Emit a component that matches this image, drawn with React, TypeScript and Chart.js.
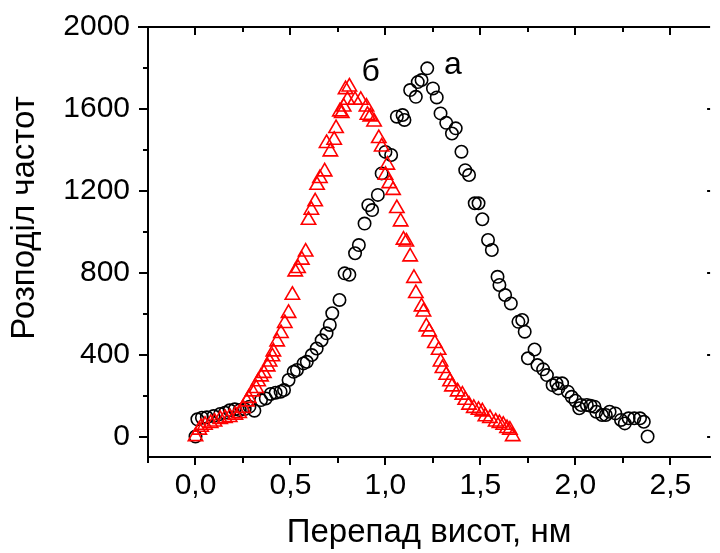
import React, { useEffect, useRef } from 'react';
import { Chart, registerables } from 'chart.js';

Chart.register(...registerables);

// Series "а" (black circles)
const seriesAX = [0, 0.01, 0.034, 0.06, 0.095, 0.13, 0.155, 0.18, 0.207, 0.233, 0.259, 0.284, 0.31, 0.345, 0.37, 0.396, 0.422, 0.448, 0.466, 0.49, 0.517, 0.534, 0.569, 0.586, 0.612, 0.638, 0.664, 0.69, 0.707, 0.72, 0.758, 0.785, 0.81, 0.84, 0.86, 0.89, 0.91, 0.93, 0.96, 0.98, 1.00, 1.03, 1.06, 1.09, 1.10, 1.13, 1.16, 1.17, 1.19, 1.22, 1.25, 1.27, 1.29, 1.32, 1.35, 1.37, 1.40, 1.42, 1.44, 1.47, 1.49, 1.51, 1.54, 1.56, 1.59, 1.60, 1.63, 1.66, 1.70, 1.72, 1.733, 1.75, 1.785, 1.80, 1.83, 1.85, 1.88, 1.90, 1.91, 1.93, 1.96, 1.98, 2.00, 2.02, 2.03, 2.06, 2.08, 2.10, 2.11, 2.14, 2.16, 2.18, 2.21, 2.24, 2.26, 2.28, 2.31, 2.34, 2.36, 2.38];
const seriesAY = [0, 84, 92, 94, 100, 110, 116, 128, 133, 129, 134, 146, 126, 178, 186, 208, 214, 219, 227, 276, 316, 325, 357, 365, 398, 430, 470, 504, 545, 602, 667, 797, 790, 895, 935, 1040, 1130, 1106, 1180, 1285, 1390, 1375, 1562, 1570, 1546, 1692, 1659, 1731, 1741, 1798, 1700, 1656, 1578, 1532, 1480, 1505, 1391, 1301, 1277, 1139, 1139, 1061, 960, 911, 780, 740, 691, 650, 560, 569, 512, 382, 425, 349, 328, 300, 251, 260, 235, 260, 219, 194, 175, 138, 154, 154, 150, 146, 121, 105, 105, 121, 113, 81, 64, 89, 89, 89, 72, 0];

// Series "б" (red triangles)
const seriesBX = [0, 0.02, 0.03, 0.05, 0.08, 0.10, 0.13, 0.155, 0.18, 0.21, 0.23, 0.25, 0.27, 0.28, 0.30, 0.32, 0.33, 0.345, 0.36, 0.38, 0.39, 0.405, 0.41, 0.43, 0.45, 0.47, 0.49, 0.51, 0.525, 0.54, 0.56, 0.58, 0.595, 0.61, 0.63, 0.64, 0.655, 0.68, 0.69, 0.71, 0.73, 0.74, 0.76, 0.77, 0.78, 0.79, 0.80, 0.81, 0.84, 0.87, 0.90, 0.905, 0.92, 0.94, 0.965, 0.98, 1.00, 1.01, 1.02, 1.04, 1.06, 1.08, 1.095, 1.11, 1.13, 1.15, 1.16, 1.19, 1.20, 1.215, 1.23, 1.26, 1.28, 1.29, 1.30, 1.32, 1.34, 1.35, 1.38, 1.405, 1.42, 1.44, 1.465, 1.49, 1.51, 1.526, 1.55, 1.58, 1.60, 1.62, 1.64, 1.655, 1.67];
const seriesBY = [0, 32, 46, 56, 64, 72, 84, 89, 94, 105, 113, 138, 170, 187, 219, 235, 268, 292, 309, 341, 365, 390, 414, 463, 504, 553, 602, 691, 805, 821, 862, 902, 1057, 1106, 1147, 1228, 1261, 1293, 1432, 1391, 1448, 1505, 1586, 1578, 1610, 1695, 1643, 1708, 1643, 1643, 1610, 1570, 1562, 1537, 1456, 1415, 1277, 1326, 1236, 1203, 1114, 1049, 960, 951, 878, 773, 699, 634, 609, 536, 512, 455, 422, 365, 333, 300, 268, 243, 219, 203, 178, 154, 138, 129, 121, 97, 89, 72, 64, 56, 40, 32, 0];

const xMajorTicks = [0, 0.5, 1.0, 1.5, 2.0, 2.5];
const xMinorTicks = [-0.25, 0.25, 0.75, 1.25, 1.75, 2.25];
const yMajorTicks = [0, 400, 800, 1200, 1600, 2000];
const yMinorTicks = [200, 600, 1000, 1400, 1800];

const annotationTexts = ['а', 'б'];
const annotationX = [1.355, 0.922];
const annotationY = [1819, 1785];

const xTitle = 'Перепад висот, нм';
const yTitle = 'Розподіл частот';

const FONT = "'Liberation Sans', Arial, sans-serif";
const FONT_SIZE = 30;
const TITLE_SIZE = 33;
const NOTE_SIZE = 32;

const framePlugin = {
  id: 'frame',
  afterDraw(chart: any) {
    const { ctx, chartArea: ca, scales } = chart;
    const x = scales.x;
    const y = scales.y;
    ctx.save();
    ctx.strokeStyle = '#000';
    ctx.lineWidth = 2;
    ctx.lineCap = 'butt';
    ctx.beginPath();
    ctx.moveTo(ca.left - 10, ca.top);
    ctx.lineTo(ca.right, ca.top);
    const xt = [...xMajorTicks.map((v) => [v, true]), ...xMinorTicks.map((v) => [v, false])] as [number, boolean][];
    for (const [v, major] of xt) {
      const px = Math.round(x.getPixelForValue(v));
      ctx.moveTo(px, ca.bottom);
      ctx.lineTo(px, ca.bottom + (major ? 8 : 6));
      ctx.moveTo(px, ca.top);
      ctx.lineTo(px, ca.top + (major ? 8 : 5));
    }
    const yt = [...yMajorTicks.map((v) => [v, true]), ...yMinorTicks.map((v) => [v, false])] as [number, boolean][];
    for (const [v, major] of yt) {
      const py = Math.round(y.getPixelForValue(v));
      ctx.moveTo(ca.left, py);
      ctx.lineTo(ca.left - (major ? 9 : 5), py);
      if (major) {
        ctx.moveTo(ca.right, py);
        ctx.lineTo(ca.right - 3, py);
      }
    }
    ctx.stroke();

    ctx.fillStyle = '#000';
    ctx.font = `${TITLE_SIZE}px ${FONT}`;
    ctx.textAlign = 'center';
    ctx.textBaseline = 'middle';
    ctx.save();
    ctx.translate(25, 218);
    ctx.rotate(-Math.PI / 2);
    ctx.fillText(yTitle, 0, 0);
    ctx.restore();

    ctx.font = `${NOTE_SIZE}px ${FONT}`;
    ctx.textBaseline = 'alphabetic';
    for (let i = 0; i < annotationTexts.length; i++) {
      ctx.fillText(annotationTexts[i], x.getPixelForValue(annotationX[i]), y.getPixelForValue(annotationY[i]) + 10);
    }
    ctx.restore();
  },
};

export default function App() {
  const ref = useRef<HTMLCanvasElement | null>(null);
  useEffect(() => {
    if (!ref.current) return;
    Chart.defaults.font.family = FONT;
    const chart = new Chart(ref.current, {
      type: 'scatter',
      data: {
        datasets: [
          {
            label: 'б',
            data: seriesBX.map((v, i) => ({ x: v, y: seriesBY[i] })),
            pointStyle: 'triangle',
            pointRadius: 8.3,
            borderColor: '#ff0000',
            backgroundColor: 'rgba(0,0,0,0)',
            borderWidth: 1.6,
          },
          {
            label: 'а',
            data: seriesAX.map((v, i) => ({ x: v, y: seriesAY[i] })),
            pointStyle: 'circle',
            pointRadius: 6.2,
            borderColor: '#000000',
            backgroundColor: 'rgba(0,0,0,0)',
            borderWidth: 1.6,
          },
        ],
      },
      options: {
        responsive: false,
        animation: false,
        events: [],
        layout: { padding: { top: 27, right: 0, left: 0, bottom: 0 } },
        plugins: { legend: { display: false }, tooltip: { enabled: false } },
        scales: {
          x: {
            type: 'linear',
            min: -0.25,
            max: 2.709,
            afterBuildTicks: (scale: any) => {
              scale.ticks = xMajorTicks.map((v) => ({ value: v }));
            },
            afterFit: (scale: any) => {
              scale.height = 96;
              scale.paddingLeft = 0;
              scale.paddingRight = 0;
            },
            grid: { display: false, drawTicks: false },
            border: { display: true, color: '#000', width: 2 },
            ticks: {
              autoSkip: false,
              maxRotation: 0,
              padding: 11,
              color: '#000',
              font: { size: FONT_SIZE, family: FONT },
              callback: (v: any) => Number(v).toFixed(1).replace('.', ','),
            },
            title: {
              display: true,
              text: xTitle,
              color: '#000',
              font: { size: TITLE_SIZE, family: FONT },
              padding: { top: 0, bottom: 0 },
            },
          },
          y: {
            type: 'linear',
            min: -100,
            max: 2000,
            afterBuildTicks: (scale: any) => {
              scale.ticks = yMajorTicks.map((v) => ({ value: v }));
            },
            afterFit: (scale: any) => {
              scale.width = 148;
              scale.paddingTop = 0;
              scale.paddingBottom = 0;
            },
            grid: { display: false, drawTicks: false },
            border: { display: true, color: '#000', width: 2 },
            ticks: {
              autoSkip: false,
              padding: 18,
              color: '#000',
              font: { size: FONT_SIZE, family: FONT },
              callback: (v: any) => String(v),
            },
          },
        },
      },
      plugins: [framePlugin],
    });
    return () => chart.destroy();
  }, []);
  return (
    <div style={{ position: 'absolute', left: 0, top: 0, width: 720, height: 553, background: '#fff' }}>
      <canvas ref={ref} width={720} height={553} />
    </div>
  );
}
